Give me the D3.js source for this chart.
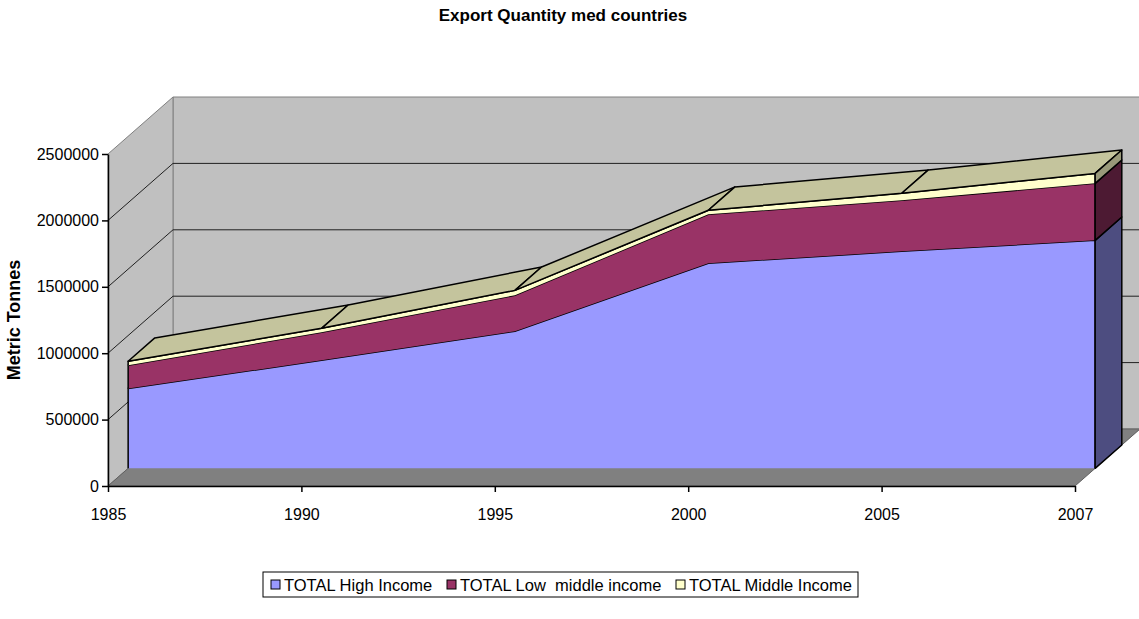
<!DOCTYPE html>
<html>
<head>
<meta charset="utf-8">
<script src="https://cdn.jsdelivr.net/npm/d3@7"></script>
<style>
  body { margin: 0; background: #fff; }
  svg { font-family: "Liberation Sans", Arial, sans-serif; }
</style>
</head>
<body>
<div id="chart"></div>
<script>
// data
var years = ["1985", "1990", "1995", "2000", "2005", "2007"];
var highIncome = [602000, 813000, 1032000, 1544000, 1634000, 1717000];
var lowMiddleIncome = [174000, 211000, 271000, 369000, 384000, 429000];
var middleIncome = [30000, 30000, 37000, 30000, 53000, 75000];
var seriesNames = ["TOTAL High Income", "TOTAL Low  middle income", "TOTAL Middle Income"];
var yTicks = [0, 500000, 1000000, 1500000, 2000000, 2500000];

var colors = ["#9999ff", "#993366", "#ffffcc"];
var sideColors = ["#4d4d80", "#4d1a33", "#99997a"];
var topColor = "#c4c49d";

var width = 1139, height = 619;
// oblique depth vector (full depth of the box)
var depthX = 65, depthY = -57;
var zFront = 0.31, zBack = 0.72;

var x = d3.scalePoint().domain(years).range([108, 1075]);
var y = d3.scaleLinear().domain([0, 2500000]).range([486, 154]);

function P(xv, yv, z) { return [xv + depthX * z, yv + depthY * z]; }

var table = years.map(function(yr, i) {
  return { year: yr, high: highIncome[i], low: lowMiddleIncome[i], mid: middleIncome[i] };
});
var stack = d3.stack().keys(["high", "low", "mid"]);
var layers = stack(table);

var svg = d3.select("#chart").append("svg")
  .attr("width", width)
  .attr("height", height);

var poly = function(pts) { return "M" + pts.map(function(p) { return p[0] + "," + p[1]; }).join("L") + "Z"; };

var x0 = x.range()[0], x1 = x.range()[1];
var yB = y(0), yT = y(2500000);

// back wall
svg.append("path")
  .attr("d", poly([P(x0, yT, 1), P(x1 + 100, yT, 1), P(x1 + 100, yB, 1), P(x0, yB, 1)]))
  .attr("fill", "#c0c0c0").attr("stroke", "#808080");
// side wall
svg.append("path")
  .attr("d", poly([[x0, yB], [x0, yT], P(x0, yT, 1), P(x0, yB, 1)]))
  .attr("fill", "#c0c0c0").attr("stroke", "#808080");

// gridlines on walls
yTicks.slice(1, -1).forEach(function(t) {
  var a = [x0, y(t)], b = P(x0, y(t), 1), c = P(x1 + 100, y(t), 1);
  svg.append("path")
    .attr("d", "M" + a + "L" + b + "L" + c)
    .attr("fill", "none").attr("stroke", "#202020").attr("stroke-width", 1);
});

// floor
svg.append("path")
  .attr("d", poly([[x0, yB], [x1, yB], P(x1, yB, 1), P(x0, yB, 1)]))
  .attr("fill", "#808080").attr("stroke", "#606060");

// front faces of the stacked areas
var area = d3.area()
  .x(function(d) { return P(x(d.data.year), 0, zFront)[0]; })
  .y0(function(d) { return P(0, y(d[0]), zFront)[1]; })
  .y1(function(d) { return P(0, y(d[1]), zFront)[1]; });

layers.forEach(function(layer, i) {
  svg.append("path").attr("d", area(layer)).attr("fill", colors[i]);
  var outline = layer.map(function(d) { return P(x(d.data.year), y(d[1]), zFront); });
  var first = layer[0], last = layer[layer.length - 1];
  outline.unshift(P(x(first.data.year), y(first[0]), zFront));
  outline.push(P(x(last.data.year), y(last[0]), zFront));
  svg.append("path").attr("d", d3.line()(outline))
    .attr("fill", "none").attr("stroke", "#000").attr("stroke-width", 1.5);
});

// top face of the top layer
var topLayer = layers[layers.length - 1];
for (var i = 0; i < topLayer.length - 1; i++) {
  var a = topLayer[i], b = topLayer[i + 1];
  var xa = x(a.data.year), xb = x(b.data.year);
  svg.append("path")
    .attr("d", poly([P(xa, y(a[1]), zFront), P(xb, y(b[1]), zFront), P(xb, y(b[1]), zBack), P(xa, y(a[1]), zBack)]))
    .attr("fill", topColor).attr("stroke", "#000").attr("stroke-width", 1.5).attr("stroke-linejoin", "round");
}

// right side faces at the last category
layers.forEach(function(layer, i) {
  var d = layer[layer.length - 1], xv = x(d.data.year);
  svg.append("path")
    .attr("d", poly([P(xv, y(d[0]), zFront), P(xv, y(d[1]), zFront), P(xv, y(d[1]), zBack), P(xv, y(d[0]), zBack)]))
    .attr("fill", sideColors[i]).attr("stroke", "#000").attr("stroke-width", 1.5).attr("stroke-linejoin", "round");
});

// axes
var yAxis = svg.append("g")
  .attr("transform", "translate(" + x0 + ",0)")
  .call(d3.axisLeft(y).tickValues(yTicks).tickFormat(d3.format("d")).tickSize(6).tickSizeOuter(0));
var xAxis = svg.append("g")
  .attr("transform", "translate(0," + yB + ")")
  .call(d3.axisBottom(x).tickSize(6).tickSizeOuter(0).tickPadding(17));
[yAxis, xAxis].forEach(function(g) {
  g.selectAll("text").attr("font-size", 16).attr("fill", "#000").attr("font-family", null);
  g.selectAll("line").attr("stroke", "#000").attr("stroke-width", 1.5);
  g.select(".domain").attr("stroke", "#000").attr("stroke-width", 1.5);
  g.attr("font-family", null);
});

// title
svg.append("text")
  .attr("x", 563).attr("y", 21)
  .attr("text-anchor", "middle")
  .attr("font-size", 17).attr("font-weight", "bold")
  .text("Export Quantity med countries");

// y axis title
svg.append("text")
  .attr("transform", "translate(20,320) rotate(-90)")
  .attr("text-anchor", "middle")
  .attr("font-size", 18).attr("font-weight", "bold")
  .text("Metric Tonnes");

// legend
var legend = svg.append("g").attr("transform", "translate(263,572)");
legend.append("rect").attr("width", 595).attr("height", 25)
  .attr("fill", "#fff").attr("stroke", "#000");
var legendX = [8, 184, 413];
seriesNames.forEach(function(name, i) {
  var g = legend.append("g").attr("transform", "translate(" + legendX[i] + ",0)");
  g.append("rect").attr("x", 0).attr("y", 8).attr("width", 9).attr("height", 9)
    .attr("fill", colors[i]).attr("stroke", "#000");
  g.append("text").attr("x", 13).attr("y", 18.5)
    .attr("font-size", 16.5).style("white-space", "pre")
    .text(name);
});
</script>
</body>
</html>
